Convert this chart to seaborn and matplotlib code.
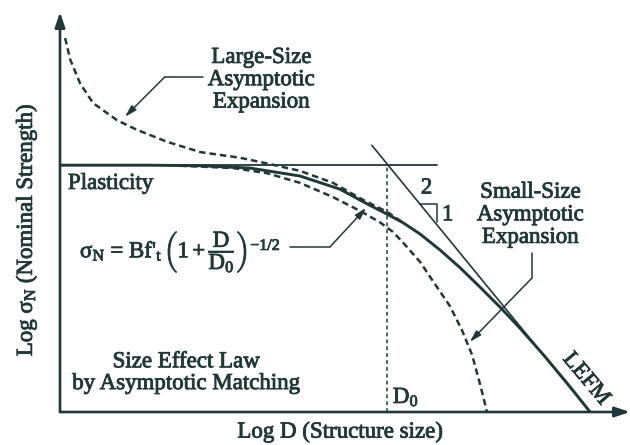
import numpy as np
import pandas as pd
import matplotlib
matplotlib.use("Agg")
import matplotlib.pyplot as plt
import matplotlib.patheffects as pe
import seaborn as sns

# ---------------- data (log D, log sigma_N) ----------------
plastic_level = 4.33
plastic_x_end = 6.61
log_D0 = 5.74

lefm_x = [5.47, 9.30]
lefm_y = [4.68, 0.00]

law_x = [0.00, 1.58, 2.46, 3.33, 4.21, 4.91, 5.39, 5.74, 6.02, 6.32, 6.67,
         7.02, 7.37, 7.72, 8.07, 8.51, 8.95, 9.30]
law_y = [4.33, 4.33, 4.32, 4.28, 4.14, 3.91, 3.65, 3.47, 3.32, 3.12, 2.84,
         2.53, 2.19, 1.84, 1.47, 0.97, 0.44, 0.00]

large_x = [0.09, 0.18, 0.35, 0.58, 1.00, 1.35, 1.88, 2.46, 3.16, 3.68, 4.21,
           4.79, 5.32, 5.74, 6.02]
large_y = [6.56, 6.18, 5.77, 5.42, 5.12, 4.95, 4.74, 4.56, 4.46, 4.35, 4.23,
           4.02, 3.72, 3.51, 3.32]

small_x = [2.11, 3.04, 3.63, 4.21, 4.79, 5.26, 5.61, 5.84, 6.02, 6.32, 6.54,
           6.84, 7.05, 7.23, 7.35, 7.44, 7.49]
small_y = [4.32, 4.28, 4.19, 4.02, 3.77, 3.53, 3.33, 3.16, 2.97, 2.63, 2.30,
           1.86, 1.44, 1.00, 0.56, 0.21, 0.00]

# ---------------- style ----------------
sns.set_style("white")
plt.rcParams["font.family"] = ["Liberation Serif", "DejaVu Serif"]
plt.rcParams["mathtext.fontset"] = "custom"
plt.rcParams["mathtext.rm"] = "Liberation Serif"
plt.rcParams["mathtext.it"] = "Liberation Serif:italic"
plt.rcParams["mathtext.bf"] = "Liberation Serif:bold"
INK = "#213838"
FS = 16.5
HEAVY = [pe.withStroke(linewidth=0.6, foreground=INK)]

fig = plt.figure(figsize=(6.3, 4.45), dpi=100)
ax = fig.add_axes([60 / 630, 33 / 445, 570 / 630, 400 / 445])
ax.set_xlim(0, 10)
ax.set_ylim(0, 400 / 57)
ax.axis("off")

# axes with arrows
for tip in [(1.0, 0), (0, 1.0)]:
    ax.annotate("", xy=tip, xytext=(0, 0), xycoords="axes fraction",
                arrowprops=dict(arrowstyle="-|>,head_length=0.9,head_width=0.3",
                                color=INK, lw=1.9, shrinkA=0, shrinkB=0))

# plasticity line
sns.lineplot(x=[0, plastic_x_end], y=[plastic_level, plastic_level], ax=ax,
             color=INK, linewidth=1.3, sort=False, estimator=None)
# D0 marker
sns.lineplot(x=[log_D0, log_D0], y=[0, plastic_level], ax=ax, color=INK,
             linewidth=1.1, linestyle=(0, (2.5, 2)), sort=False, estimator=None)
# LEFM asymptote
sns.lineplot(x=lefm_x, y=lefm_y, ax=ax, color=INK, linewidth=1.2,
             sort=False, estimator=None)
# size effect law
sns.lineplot(x=law_x, y=law_y, ax=ax, color=INK, linewidth=2.1,
             sort=False, estimator=None)
# asymptotic expansions
sns.lineplot(x=large_x, y=large_y, ax=ax, color=INK, linewidth=1.8,
             linestyle=(0, (2.6, 1.6)), sort=False, estimator=None)
sns.lineplot(x=small_x, y=small_y, ax=ax, color=INK, linewidth=1.8,
             linestyle=(0, (2.6, 1.6)), sort=False, estimator=None)

# slope triangle
ax.plot([6.32, 6.61, 6.61], [3.65, 3.65, 3.33], color=INK, lw=1.1)

def label(x, y, s, **kw):
    kw.setdefault("fontsize", FS)
    kw.setdefault("ha", "center")
    kw.setdefault("va", "center")
    return ax.text(x, y, s, color=INK, path_effects=HEAVY, **kw)

label(6.43, 3.93, "2")
label(6.80, 3.46, "1")

# leader lines
def leader(xs, ys):
    ax.plot(xs[:-1], ys[:-1], color=INK, lw=1.1)
    ax.annotate("", xy=(xs[-1], ys[-1]), xytext=(xs[-2], ys[-2]),
                arrowprops=dict(arrowstyle="-|>,head_length=0.7,head_width=0.2",
                                color=INK, lw=1.1, shrinkA=0, shrinkB=0))

leader([2.51, 1.84, 1.14], [5.88, 5.88, 5.18])
leader([4.04, 4.74, 5.37], [2.90, 2.90, 3.58])
leader([8.28, 8.28, 7.19], [2.79, 2.35, 1.23])

# labels
label(3.53, 5.83, "Large-Size\nAsymptotic\nExpansion", linespacing=1.08)
label(8.25, 3.46, "Small-Size\nAsymptotic\nExpansion", linespacing=1.1)
label(0.14, 4.01, "Plasticity", ha="left")
label(2.21, 0.69, "Size Effect Law\nby Asymptotic Matching", linespacing=1.05)
label(5.84, 0.26, r"D$_0$", ha="left")
label(9.23, 0.58, "LEFM", rotation=-50, rotation_mode="anchor")
label(0.35, 2.86,
      r"σ$_\mathrm{N}$ = Bf'$_\mathrm{t}\,\left(1 + \dfrac{\mathrm{D}}{\mathrm{D}_0}\right)^{-1/2}$",
      ha="left")

fig.text(340 / 630, 1 - 432 / 445, "Log D (Structure size)", fontsize=FS,
         color=INK, ha="center", va="center", path_effects=HEAVY)
fig.text(26 / 630, 1 - 230 / 445, r"Log σ$_\mathrm{N}$ (Nominal Strength)",
         fontsize=FS, color=INK, ha="center", va="center", rotation=90,
         path_effects=HEAVY)

fig.savefig("out.png", dpi=100)
